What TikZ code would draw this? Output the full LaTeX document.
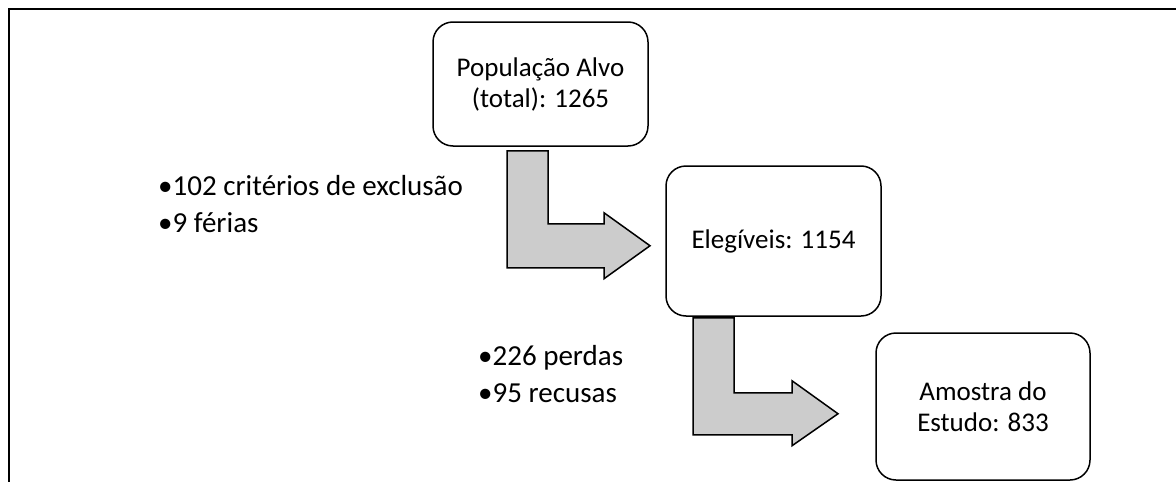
\documentclass[tikz,border=0pt]{standalone}
\usepackage{fontspec}
\setmainfont{Carlito}
\usetikzlibrary{positioning}

\begin{document}
\begin{tikzpicture}[x=1pt,y=-1pt,on grid,
    box/.style={draw,line width=1.5pt,rounded corners=20pt,align=center,minimum width=215pt,font=\fontsize{27}{31}\selectfont},
    blockarrow/.style={draw,line width=1.5pt,fill=gray!40,line join=miter},
    notes/.style={align=left,anchor=base west,inner sep=0pt,font=\fontsize{29}{37}\selectfont}]

    \useasboundingbox (0,0) rectangle (1176,482);
    \draw[line width=2pt] (8.5,482) -- (8.5,8.5) -- (1176,8.5);

    \node (pop) [box,minimum height=124pt] at (540.5,84)
        {População Alvo\\(total): 1265};
    \node (eleg) [box,minimum height=150pt,below right=157pt and 233pt of pop]
        {Elegíveis: 1154};
    \node (amostra) [box,minimum width=214pt,minimum height=147pt,below right=165.5pt and 209.5pt of eleg]
        {Amostra do\\Estudo: 833};

    \node (excl) [notes] at (158,232) {•102 critérios de exclusão\\•9 férias};
    \node (perdas) [notes] at (478,402) {•226 perdas\\•95 recusas};

    % bent block arrows
    \coordinate (s1) at ([xshift=-33.5pt,yshift=-4pt]pop.south);
    \coordinate (s2) at ([xshift=-80.5pt,yshift=-1pt]eleg.south);
    \draw[blockarrow] (s1) -- ++(41,0) -- ++(0,73) -- ++(56,0) -- ++(0,-11)
        -- ++(46,33) -- ++(-46,33) -- ++(0,-11) -- ++(-97,0) -- cycle;
    \draw[blockarrow] (s2) -- ++(41,0) -- ++(0,75) -- ++(58,0) -- ++(0,-12)
        -- ++(46,33) -- ++(-46,32) -- ++(0,-11) -- ++(-99,0) -- cycle;

\end{tikzpicture}
\end{document}
